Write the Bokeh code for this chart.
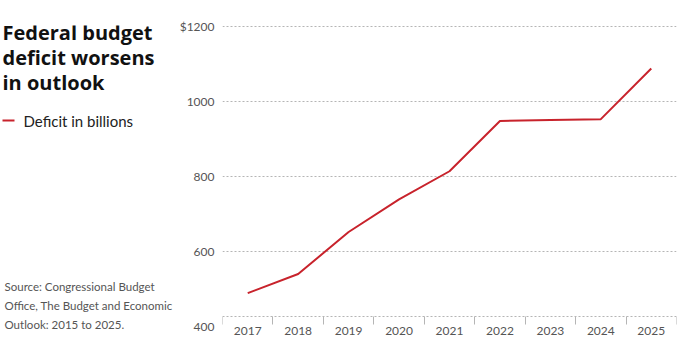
from bokeh.plotting import figure
from bokeh.models import (Range1d, FixedTicker, Label, BoxAnnotation)
from bokeh.layouts import row
from bokeh.embed import file_html
from bokeh.resources import INLINE

# ---- data ----
years = [2017, 2018, 2019, 2020, 2021, 2022, 2023, 2024, 2025]
deficit = [489, 540, 652, 739, 814, 948, 951, 953, 1088]
y_ticks = [400, 600, 800, 1000, 1200]
grid_ticks = [600, 800, 1000, 1200]
title_lines = ["Federal budget", "deficit worsens", "in outlook"]
series_name = "Deficit in billions"
source_lines = ["Source: Congressional Budget",
                "Office, The Budget and Economic",
                "Outlook: 2015 to 2025."]

RED = "#c8232c"
GREY_TXT = "#555555"
GRID = "#b5b5b5"
FONT = "Lato"

H = 355
LW = 175           # left text panel width
MW = 505           # main chart width
TOP = 25
BOTTOM = 17
FRAME_BOTTOM = H - BOTTOM   # frames of both figures are aligned in the row
boundaries = [y - 0.5 for y in years] + [years[-1] + 0.5]

# ---------------- left text panel ----------------
left = figure(width=LW, height=H, output_backend="svg", toolbar_location=None,
              x_axis_type=None, y_axis_type=None,
              x_range=Range1d(0, LW), y_range=Range1d(0, H),
              min_border=0, min_border_top=TOP, min_border_bottom=BOTTOM)
left.outline_line_color = None
left.grid.visible = False


def sy(py):   # pixel from top of page -> screen y measured up from frame bottom
    return FRAME_BOTTOM - py


for i, t in enumerate(title_lines):
    left.add_layout(Label(x=2, y=sy(32 + 25 * i), x_units="screen", y_units="screen",
                          text=t, text_font="Open Sans", text_font_style="bold",
                          text_font_size="20px", text_color="#111111",
                          text_baseline="alphabetic"))

left.add_layout(BoxAnnotation(left=2, right=14, top=sy(119), bottom=sy(121),
                              left_units="screen", right_units="screen",
                              top_units="screen", bottom_units="screen",
                              fill_color=RED, fill_alpha=1, line_color=None))
left.add_layout(Label(x=23, y=sy(120), x_units="screen", y_units="screen",
                      text=series_name, text_font=FONT, text_font_size="15px",
                      text_color="#222222", text_baseline="middle"))

for i, t in enumerate(source_lines):
    left.add_layout(Label(x=4, y=sy(286 + 19 * i), x_units="screen", y_units="screen",
                          text=t, text_font=FONT, text_font_size="11.5px",
                          text_color=GREY_TXT, text_baseline="middle"))

# ---------------- main chart ----------------
p = figure(width=MW, height=H, output_backend="svg", toolbar_location=None,
           x_range=Range1d(boundaries[0], boundaries[-1]),
           y_range=Range1d(368, 1202.67),
           min_border_left=47, min_border_right=4, min_border_top=TOP,
           min_border_bottom=BOTTOM)
p.outline_line_color = None

xa = p.xaxis[0]
xa.fixed_location = 426.67
xa.ticker = FixedTicker(ticks=years, minor_ticks=boundaries)
xa.major_tick_line_color = None
xa.major_tick_out = 0
xa.major_tick_in = 0
xa.minor_tick_in = 0
xa.minor_tick_out = 8
xa.minor_tick_line_color = GRID
xa.axis_line_color = GRID
xa.axis_line_dash = "2 2"
xa.major_label_standoff = 3
xa.major_label_text_font = FONT
xa.major_label_text_font_size = "12px"
xa.major_label_text_color = GREY_TXT
xa.major_label_overrides = {y: str(y) for y in years}

ya = p.yaxis[0]
ya.ticker = FixedTicker(ticks=y_ticks)
ya.axis_line_color = None
ya.major_tick_line_color = None
ya.major_tick_out = 0
ya.major_tick_in = 0
ya.minor_tick_line_color = None
ya.minor_tick_out = 0
ya.minor_tick_in = 0
ya.major_label_standoff = 8
ya.major_label_text_font = FONT
ya.major_label_text_font_size = "12px"
ya.major_label_text_color = GREY_TXT
ya.major_label_overrides = {1200: "$1200"}

p.xgrid.grid_line_color = None
p.ygrid.ticker = FixedTicker(ticks=grid_ticks)
p.ygrid.grid_line_color = GRID
p.ygrid.grid_line_dash = "2 2"

p.line(years, deficit, line_color=RED, line_width=2)

layout = row(left, p, spacing=0)
open("out.html", "w").write(file_html(layout, INLINE))
